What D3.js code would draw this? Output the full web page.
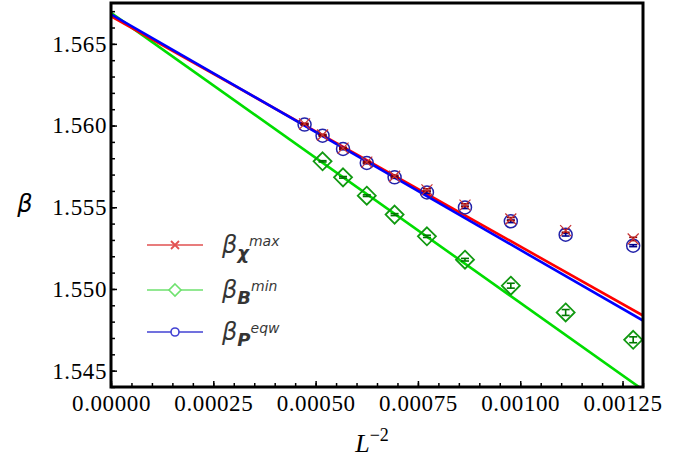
<!DOCTYPE html>
<html>
<head>
<meta charset="utf-8">
<script src="https://cdn.jsdelivr.net/npm/d3@7"></script>
<style>
  body { margin: 0; background: #fff; }
  svg { display: block; }
</style>
</head>
<body>
<script>
// x = L^-2 for L = 46, 44, ..., 28
const xVals = [0.000473, 0.000517, 0.000567, 0.000625, 0.000693, 0.000772, 0.000865, 0.000977, 0.001111, 0.001276];

const chiMax = [1.56010, 1.55942, 1.55862, 1.55776, 1.55690, 1.55606, 1.55513, 1.55428, 1.55357, 1.55306];
const chiErr = [0.00004, 0.00004, 0.00005, 0.00005, 0.00006, 0.00007, 0.00008, 0.00009, 0.00010, 0.00010];

const bMinX = [0.000517, 0.000567, 0.000625, 0.000693, 0.000772, 0.000865, 0.000977, 0.001111, 0.001276];
const bMin = [1.55781, 1.55683, 1.55571, 1.55455, 1.55322, 1.55179, 1.55020, 1.54856, 1.54689];
const bErr = [0.00004, 0.00005, 0.00005, 0.00006, 0.00007, 0.00008, 0.00015, 0.00018, 0.00018];

const pEqw = [1.56006, 1.55938, 1.55857, 1.55771, 1.55683, 1.55591, 1.55499, 1.55414, 1.55332, 1.55265];
const pErr = [0.00004, 0.00004, 0.00005, 0.00005, 0.00006, 0.00006, 0.00007, 0.00008, 0.00008, 0.00006];

// linear fits: beta = a + b * L^-2
const fitA = [1.56669, 1.56690, 1.56681];
const fitB = [-14.09, -17.75, -14.42];

const xTicks = [0, 0.00025, 0.0005, 0.00075, 0.001, 0.00125];
const yTicks = [1.545, 1.55, 1.555, 1.56, 1.565];

const W = 692, H = 461;
const pLeft = 111, pRight = 643, pTop = 3, pBottom = 387;

const svg = d3.select("body").append("svg")
  .attr("width", W)
  .attr("height", H);

const x = d3.scaleLinear().domain([0, 0.0013]).range([pLeft, pRight]);
const y = d3.scaleLinear().domain([1.544, 1.5675]).range([pBottom, pTop]);

svg.append("defs").append("clipPath").attr("id", "clip")
  .append("rect")
  .attr("x", pLeft).attr("y", pTop)
  .attr("width", pRight - pLeft).attr("height", pBottom - pTop);

const plot = svg.append("g").attr("clip-path", "url(#clip)");

// fit lines
const lineCols = ["#ff0000", "#00dd00", "#0000ff"];
const lineOrder = [1, 0, 2];
lineOrder.forEach(i => {
  const x0 = 0, x1 = 0.0013;
  plot.append("line")
    .attr("x1", x(x0)).attr("y1", y(fitA[i] + fitB[i] * x0))
    .attr("x2", x(x1)).attr("y2", y(fitA[i] + fitB[i] * x1))
    .attr("stroke", lineCols[i])
    .attr("stroke-width", 2.6);
});

function errorBars(xs, ys, es, col) {
  const g = plot.append("g").attr("stroke", col).attr("stroke-width", 1.6);
  xs.forEach((xv, i) => {
    const cx = x(xv), y0 = y(ys[i] - es[i]), y1 = y(ys[i] + es[i]);
    g.append("line").attr("x1", cx).attr("x2", cx).attr("y1", y0).attr("y2", y1);
    g.append("line").attr("x1", cx - 4).attr("x2", cx + 4).attr("y1", y0).attr("y2", y0);
    g.append("line").attr("x1", cx - 4).attr("x2", cx + 4).attr("y1", y1).attr("y2", y1);
  });
}

errorBars(bMinX, bMin, bErr, "#007700");
errorBars(xVals, pEqw, pErr, "#00008b");
errorBars(xVals, chiMax, chiErr, "#8b0000");

// markers
const crossPath = "M-5.5,-5.5L5.5,5.5M-5.5,5.5L5.5,-5.5";
const diamondPath = "M0,-9L9,0L0,9L-9,0Z";

plot.append("g").selectAll("path")
  .data(bMinX)
  .join("path")
  .attr("transform", (d, i) => `translate(${x(d)},${y(bMin[i])})`)
  .attr("d", diamondPath)
  .attr("fill", "none")
  .attr("stroke", "#119911")
  .attr("stroke-width", 1.8);

plot.append("g").selectAll("circle")
  .data(xVals)
  .join("circle")
  .attr("cx", d => x(d))
  .attr("cy", (d, i) => y(pEqw[i]))
  .attr("r", 6.5)
  .attr("fill", "none")
  .attr("stroke", "#2222aa")
  .attr("stroke-width", 1.5);

plot.append("g").selectAll("path")
  .data(xVals)
  .join("path")
  .attr("transform", (d, i) => `translate(${x(d)},${y(chiMax[i])})`)
  .attr("d", crossPath)
  .attr("fill", "none")
  .attr("stroke", "#c83232")
  .attr("stroke-width", 1.2);

// axes
const fontTick = "Liberation Serif, DejaVu Serif, serif";

const xAxis = svg.append("g")
  .attr("transform", `translate(0,${pBottom})`)
  .call(d3.axisBottom(x).tickValues(xTicks).tickSize(-6).tickPadding(8)
    .tickFormat(d3.format(".5f")));
xAxis.select(".domain").remove();
xAxis.selectAll("line").attr("stroke", "#000").attr("stroke-width", 1.5);
xAxis.selectAll("text").attr("font-family", fontTick).attr("font-size", 23)
  .attr("letter-spacing", 0.6).attr("fill", "#000");

svg.append("g")
  .attr("transform", `translate(0,${pBottom})`)
  .call(d3.axisBottom(x).tickValues(d3.range(0, 27).map(i => i * 0.00005)).tickSize(-4).tickFormat(""))
  .call(g => g.select(".domain").remove())
  .selectAll("line").attr("stroke", "#000").attr("stroke-width", 1.5);

const yAxis = svg.append("g")
  .attr("transform", `translate(${pLeft},0)`)
  .call(d3.axisLeft(y).tickValues(yTicks).tickSize(-6).tickPadding(4)
    .tickFormat(d3.format(".3f")));
yAxis.select(".domain").remove();
yAxis.selectAll("line").attr("stroke", "#000").attr("stroke-width", 1.5);
yAxis.selectAll("text").attr("font-family", fontTick).attr("font-size", 23)
  .attr("letter-spacing", 0.6).attr("fill", "#000");

svg.append("g")
  .attr("transform", `translate(${pLeft},0)`)
  .call(d3.axisLeft(y).tickValues(d3.range(0, 24).map(i => 1.544 + i * 0.001)).tickSize(-4).tickFormat(""))
  .call(g => g.select(".domain").remove())
  .selectAll("line").attr("stroke", "#000").attr("stroke-width", 1.5);

// frame
svg.append("rect")
  .attr("x", pLeft).attr("y", pTop)
  .attr("width", pRight - pLeft).attr("height", pBottom - pTop)
  .attr("fill", "none")
  .attr("stroke", "#000")
  .attr("stroke-width", 3);

// axis labels
svg.append("text")
  .attr("x", 25).attr("y", 212)
  .attr("text-anchor", "middle")
  .attr("font-family", "DejaVu Sans, sans-serif")
  .attr("font-style", "italic")
  .attr("font-size", 24)
  .text("β");

const xl = svg.append("text")
  .attr("x", 372).attr("y", 452)
  .attr("text-anchor", "middle")
  .attr("font-family", fontTick)
  .attr("font-size", 26);
xl.append("tspan").attr("font-style", "italic").text("L");
xl.append("tspan").attr("font-size", 18).attr("dy", -11).text("−2");

// legend
const legRows = [245, 290, 332];
const legCols = ["#dd3333", "#55dd55", "#2222cc"];
const legSub = ["χ", "B", "P"];
const legSup = ["max", "min", "eqw"];
const leg = svg.append("g").attr("opacity", 0.85);
legRows.forEach((ry, i) => {
  leg.append("line")
    .attr("x1", 147).attr("x2", 203).attr("y1", ry).attr("y2", ry)
    .attr("stroke", legCols[i]).attr("stroke-width", 1.5);
  const mk = leg.append("path")
    .attr("transform", `translate(175,${ry})`)
    .attr("fill", "#fff")
    .attr("stroke", legCols[i]);
  if (i === 0) mk.attr("d", "M-4,-4L4,4M-4,4L4,-4").attr("stroke-width", 1.8).attr("fill", "none");
  if (i === 1) mk.attr("d", "M0,-6L6,0L0,6L-6,0Z").attr("stroke-width", 1.6);
  if (i === 2) mk.attr("d", d3.symbol(d3.symbolCircle, 50)()).attr("stroke-width", 1.6);

  const t = leg.append("text")
    .attr("x", 222).attr("y", ry + 8)
    .attr("font-family", "DejaVu Sans, sans-serif")
    .attr("font-style", "italic")
    .attr("fill", "#111");
  t.append("tspan").attr("font-size", 24).text("β");
  t.append("tspan").attr("font-size", 18).attr("font-weight", "bold").attr("dy", 6).text(legSub[i]);
  t.append("tspan").attr("font-size", 14).attr("dy", -13).text(legSup[i]);
});
</script>
</body>
</html>
